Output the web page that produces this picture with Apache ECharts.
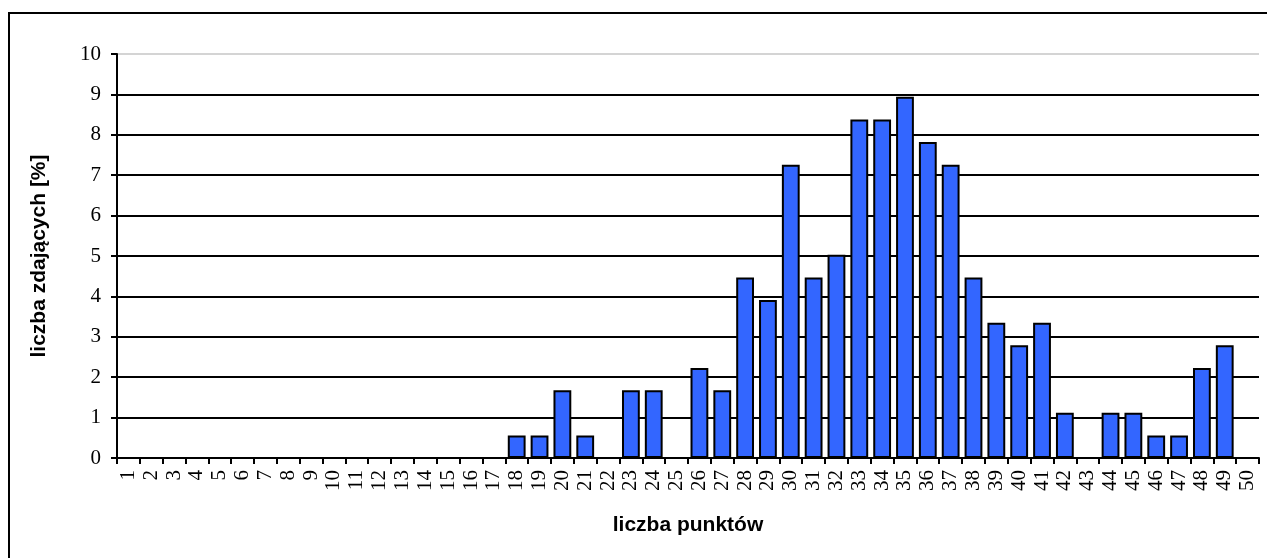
<!DOCTYPE html>
<html>
<head>
<meta charset="utf-8">
<script src="https://cdn.jsdelivr.net/npm/echarts@6/dist/echarts.min.js"></script>
<style>
html,body{margin:0;padding:0;background:#fff;}
#chart{width:1267px;height:558px;}
</style>
</head>
<body>
<div id="chart"></div>
<script>
const categories = ['1','2','3','4','5','6','7','8','9','10','11','12','13','14','15','16','17','18','19','20','21','22','23','24','25','26','27','28','29','30','31','32','33','34','35','36','37','38','39','40','41','42','43','44','45','46','47','48','49','50'];
const percentValues = [0,0,0,0,0,0,0,0,0,0,0,0,0,0,0,0,0,0.56,0.56,1.68,0.56,0,1.68,1.68,0,2.23,1.68,4.47,3.91,7.26,4.47,5.03,8.38,8.38,8.94,7.82,7.26,4.47,3.35,2.79,3.35,1.12,0,1.12,1.12,0.56,0.56,2.23,2.79,0];
const yTicks = [0,1,2,3,4,5,6,7,8,9,10];
const xTitle = 'liczba punktów';
const yTitle = 'liczba zdających [%]';

const gridColors = yTicks.map((v, i) => i === yTicks.length - 1 ? '#d4d4d4' : '#000000');

const chart = echarts.init(document.getElementById('chart'), null, {renderer: 'canvas'});
chart.setOption({
  animation: false,
  backgroundColor: '#ffffff',
  graphic: [{
    type: 'rect',
    shape: {x: 9, y: 13, width: 1300, height: 600},
    style: {fill: 'none', stroke: '#000', lineWidth: 2},
    silent: true,
    z: 100
  }],
  grid: {left: 117, right: 8, top: 54, bottom: 100, containLabel: false},
  xAxis: {
    type: 'category',
    data: categories,
    boundaryGap: true,
    name: xTitle,
    nameLocation: 'middle',
    nameGap: 57,
    nameTextStyle: {fontFamily: 'Liberation Sans', fontWeight: 'bold', fontSize: 21, color: '#000'},
    axisLine: {show: true, lineStyle: {color: '#000', width: 2}},
    axisTick: {show: true, alignWithLabel: false, length: 6, inside: false, lineStyle: {color: '#000', width: 2}},
    axisLabel: {rotate: 90, interval: 0, margin: 12, fontFamily: 'Liberation Serif', fontSize: 21, color: '#000'},
    splitLine: {show: false}
  },
  yAxis: {
    type: 'value',
    min: 0,
    max: 10,
    interval: 1,
    name: yTitle,
    nameLocation: 'middle',
    nameGap: 67,
    nameRotate: 90,
    nameTextStyle: {fontFamily: 'Liberation Sans', fontWeight: 'bold', fontSize: 21, color: '#000'},
    axisLine: {show: true, lineStyle: {color: '#000', width: 2}},
    axisTick: {show: true, length: 6, inside: false, lineStyle: {color: '#000', width: 2}},
    axisLabel: {margin: 16, fontFamily: 'Liberation Serif', fontSize: 21, color: '#000'},
    splitLine: {show: true, showMinLine: true, showMaxLine: true, lineStyle: {color: gridColors, width: 2}}
  },
  series: [{
    type: 'bar',
    data: percentValues,
    barCategoryGap: '22%',
    itemStyle: {color: '#3366ff', borderColor: '#000', borderWidth: 2},
    z: 3
  }]
});
</script>
</body>
</html>
